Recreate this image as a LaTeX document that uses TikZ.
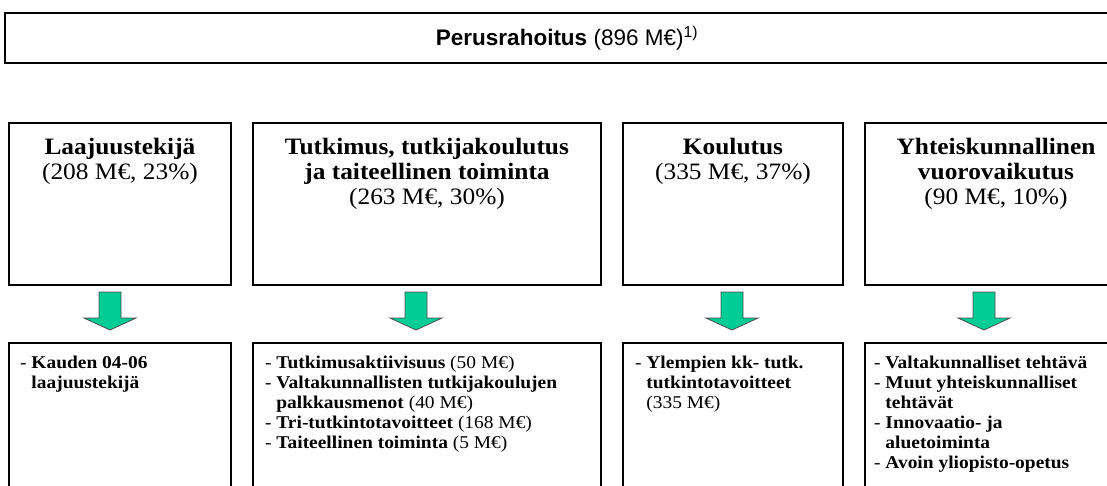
\documentclass[tikz,border=0pt]{standalone}
\usepackage{fontspec}
\setmainfont{Liberation Serif}[FakeStretch=1.08]
\newfontfamily\arialfont{Liberation Sans}
\usetikzlibrary{positioning}
\definecolor{boxgreen}{RGB}{0,204,150}

\begin{document}
\begin{tikzpicture}[x=1pt, y=-1pt,
    box/.style={draw, line width=2.2pt, inner sep=0pt},
    head/.style={align=center, inner sep=0pt, font=\fontsize{23.5}{25}\selectfont},
    items/.style={align=left, inner sep=0pt, font=\fontsize{18}{20}\selectfont},
    greenarrow/.style={fill=boxgreen, draw=black!70, line width=0.8pt, line join=miter}]
    \clip (0,0) rectangle (1107,485);

    \node[box, minimum width=1124pt, minimum height=50pt] (top) at (567,38) {};
    \node[inner sep=0pt, font=\arialfont\fontsize{22.5}{24}\selectfont] (toptext) at (top.center)
        {\textbf{Perusrahoitus} (896 M€)\textsuperscript{1)}};

    \node[box, minimum width=222pt, minimum height=162pt] (l1) at (120,204) {};
    \node[box, minimum width=348pt, minimum height=162pt] (l2) at (427,204) {};
    \node[box, minimum width=220pt, minimum height=162pt] (l3) at (733,204) {};
    \node[box, minimum width=262pt, minimum height=162pt] (l4) at (996,204) {};

    \node[head, below=16pt of l1.north] (h1) {\textbf{Laajuustekijä}\\(208 M€, 23\%)};
    \node[head, below=16pt of l2.north] (h2) {\textbf{Tutkimus, tutkijakoulutus}\\\textbf{ja taiteellinen toiminta}\\(263 M€, 30\%)};
    \node[head, below=16pt of l3.north] (h3) {\textbf{Koulutus}\\(335 M€, 37\%)};
    \node[head, below=16pt of l4.north] (h4) {\textbf{Yhteiskunnallinen}\\\textbf{vuorovaikutus}\\(90 M€, 10\%)};

    \node[box, minimum width=222pt, minimum height=200pt] (d1) at (120,443) {};
    \node[box, minimum width=348pt, minimum height=200pt] (d2) at (427,443) {};
    \node[box, minimum width=220pt, minimum height=200pt] (d3) at (733,443) {};
    \node[box, minimum width=262pt, minimum height=200pt] (d4) at (996,443) {};

    \coordinate (a1) at (110,292);
    \coordinate (a2) at (416,292);
    \coordinate (a3) at (732,292);
    \coordinate (a4) at (984,292);
    \draw[greenarrow] (a1) ++(-11,0) -- ++(22,0) -- ++(0,26) -- ++(15,0) -- ++(-26,12) -- ++(-26,-12) -- ++(15,0) -- cycle;
    \draw[greenarrow] (a2) ++(-11,0) -- ++(22,0) -- ++(0,26) -- ++(15,0) -- ++(-26,12) -- ++(-26,-12) -- ++(15,0) -- cycle;
    \draw[greenarrow] (a3) ++(-11,0) -- ++(22,0) -- ++(0,26) -- ++(15,0) -- ++(-26,12) -- ++(-26,-12) -- ++(15,0) -- cycle;
    \draw[greenarrow] (a4) ++(-11,0) -- ++(22,0) -- ++(0,26) -- ++(15,0) -- ++(-26,12) -- ++(-26,-12) -- ++(15,0) -- cycle;

    \node[items, below right=14pt and 12pt of d1.north west] (i1)
        {- \textbf{Kauden 04-06}\\\phantom{- }\textbf{laajuustekijä}};
    \node[items, below right=14pt and 13pt of d2.north west] (i2)
        {- \textbf{Tutkimusaktiivisuus} (50 M€)\\
         - \textbf{Valtakunnallisten tutkijakoulujen}\\
         \phantom{- }\textbf{palkkausmenot} (40 M€)\\
         - \textbf{Tri-tutkintotavoitteet} (168 M€)\\
         - \textbf{Taiteellinen toiminta} (5 M€)};
    \node[items, below right=14pt and 13pt of d3.north west] (i3)
        {- \textbf{Ylempien kk- tutk.}\\\phantom{- }\textbf{tutkintotavoitteet}\\\phantom{- }(335 M€)};
    \node[items, below right=14pt and 10pt of d4.north west] (i4)
        {- \textbf{Valtakunnalliset tehtävä}\\
         - \textbf{Muut yhteiskunnalliset}\\
         \phantom{- }\textbf{tehtävät}\\
         - \textbf{Innovaatio- ja}\\
         \phantom{- }\textbf{aluetoiminta}\\
         - \textbf{Avoin yliopisto-opetus}};
\end{tikzpicture}
\end{document}
